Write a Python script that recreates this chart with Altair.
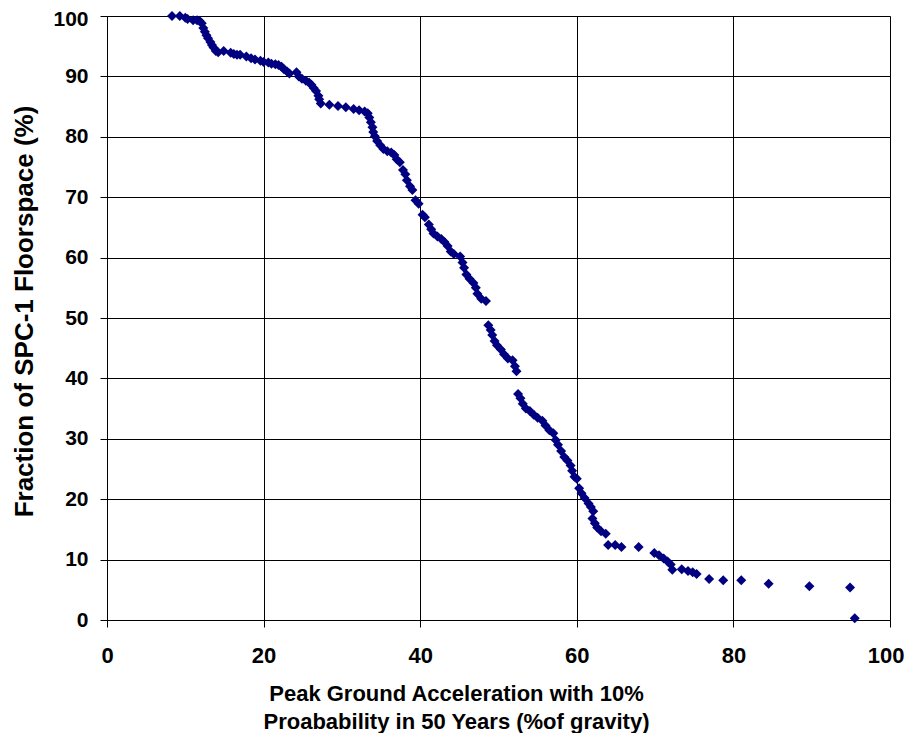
import altair as alt
import pandas as pd

pga = [8.3, 9.3, 10.0, 10.3, 11.0, 11.5, 11.8, 12.1, 12.3, 12.5, 12.7, 12.9, 13.2, 13.4, 13.6, 13.9, 14.2,
       14.9, 15.8, 16.2, 16.6, 17.0, 17.8, 18.4, 18.9, 19.6, 20.0, 20.6, 21.0, 21.5, 21.9, 22.3, 22.6,
       23.0, 23.3, 24.2, 24.5, 24.9, 25.4, 25.8, 26.1, 26.4, 26.7, 27.0, 27.1, 27.3, 28.4, 29.5, 30.5,
       31.5, 32.2, 32.9, 33.3, 33.5, 33.7, 33.9, 34.0, 34.2, 34.5, 34.9, 35.3, 35.8, 36.3, 36.7, 37.0,
       37.4, 37.8, 38.1, 38.3, 38.7, 39.0, 39.4, 39.8, 40.3, 40.6, 41.1, 41.4, 41.7, 42.2, 42.7, 43.1,
       43.5, 43.9, 44.3, 45.1, 45.4, 45.6, 45.9, 46.3, 46.8, 47.1, 47.3, 47.8, 48.4,
       48.7, 49.0, 49.2, 49.5, 49.8, 50.3, 50.7, 51.2, 51.8, 52.1, 52.3,
       52.5, 52.8, 53.1, 53.5, 54.0, 54.5, 55.0, 55.6, 56.0, 56.5, 57.0, 57.3, 57.6, 58.0, 58.4, 58.8,
       59.2, 59.4, 59.7, 60.0, 60.3, 60.6, 61.0, 61.5, 61.8, 62.1, 62.0, 62.3, 62.6, 63.1, 63.7, 64.0,
       64.9, 65.7, 67.9, 69.9, 70.5, 71.1, 71.6, 72.0, 72.2, 73.4, 74.2, 74.8, 75.3, 76.9, 78.7, 81.0,
       84.5, 89.7, 94.9, 95.5]
fraction = [100.0, 100.0, 99.7, 99.5, 99.3, 99.3, 99.2, 98.8, 98.0, 97.4, 96.8, 96.3, 95.7, 95.2, 94.8, 94.2, 94.0,
            94.2, 93.9, 93.7, 93.6, 93.6, 93.3, 93.0, 92.8, 92.6, 92.4, 92.3, 92.1, 92.0, 91.9, 91.6, 91.2,
            90.8, 90.5, 90.7, 90.0, 89.6, 89.3, 89.0, 88.6, 88.1, 87.6, 86.8, 86.2, 85.5, 85.3, 85.1, 84.9,
            84.6, 84.4, 84.2, 83.9, 83.2, 82.4, 81.6, 80.8, 80.1, 79.3, 78.6, 78.0, 77.6, 77.4, 77.0, 76.3,
            75.8, 74.5, 73.8, 72.8, 71.8, 71.2, 69.5, 68.9, 67.1, 66.7, 65.5, 64.7, 64.0, 63.5, 63.1, 62.6,
            61.9, 61.0, 60.6, 60.2, 59.2, 58.3, 57.2, 56.5, 55.8, 55.0, 54.0, 53.2, 52.8,
            48.8, 48.0, 47.2, 46.2, 45.5, 44.8, 44.0, 43.3, 43.0, 42.0, 41.2,
            37.4, 36.7, 35.8, 35.0, 34.6, 34.0, 33.5, 33.0, 32.2, 31.4, 30.9, 29.8, 29.0, 28.0, 27.0, 26.4,
            25.6, 24.7, 23.7, 23.4, 21.8, 21.0, 20.2, 19.3, 18.7, 18.0, 16.8, 16.0, 15.3, 14.7, 14.3, 12.4,
            12.4, 12.1, 12.1, 11.1, 10.7, 10.2, 9.7, 9.2, 8.3, 8.4, 8.1, 7.9, 7.6, 6.8, 6.6, 6.6,
            6.0, 5.6, 5.4, 0.3]

x_ticks = [0, 20, 40, 60, 80, 100]
y_ticks = [0, 10, 20, 30, 40, 50, 60, 70, 80, 90, 100]

df = pd.DataFrame({"pga": pga, "fraction": fraction})

FONT = "Liberation Sans"

chart = alt.Chart(df).mark_point(
    shape="diamond", filled=True, size=100, color="#000080", opacity=1
).encode(
    x=alt.X("pga:Q", scale=alt.Scale(domain=[0, 100], nice=False),
            axis=alt.Axis(values=x_ticks, title=["Peak Ground Acceleration with 10%",
                                                 "Proabability in 50 Years (%of gravity)"],
                          grid=True, gridColor="#000000", gridWidth=1, gridOpacity=1,
                          domainColor="#000000", tickColor="#000000", tickSize=7,
                          labelFlush=False, labelOverlap=False,
                          labelAlign=alt.condition("datum.value == 100", alt.value("right"), alt.value("center")),
                          labelOffset=alt.condition("datum.value == 100", alt.value(14), alt.value(0)),
                          labelPadding=18, labelFont=FONT, labelFontSize=22, labelFontWeight="bold",
                          labelColor="#000000",
                          titleFont=FONT, titleFontSize=22, titleFontWeight="bold", titleColor="#000000",
                          titleX=349, titleY=63, titleBaseline="top", titleLineHeight=28,
                          titleAlign="center")),
    y=alt.Y("fraction:Q", scale=alt.Scale(domain=[0, 100], nice=False),
            axis=alt.Axis(values=y_ticks, title="Fraction of SPC-1 Floorspace (%)",
                          grid=True, gridColor="#000000", gridWidth=1, gridOpacity=1,
                          domainColor="#000000", tickColor="#000000", tickSize=7,
                          labelFlush=False, labelOverlap=False,
                          labelOffset=alt.condition("datum.value == 100", alt.value(3), alt.value(0)),
                          labelPadding=12, labelFont=FONT, labelFontSize=21, labelFontWeight="bold",
                          labelColor="#000000",
                          titleFont=FONT, titleFontSize=26, titleFontWeight="bold", titleColor="#000000",
                          titleX=-83, titleY=295, titleAngle=270, titleBaseline="middle",
                          titleAlign="center")),
).properties(
    width=783, height=604,
    autosize=alt.AutoSizeParams(type="none"),
    padding={"left": 99, "top": 8, "right": 15, "bottom": 113},
).configure_view(
    fill="#C0C0C0", stroke="#808080", strokeWidth=1
).configure(background="#FFFFFF")

chart.save("out.html", embed_options={"renderer": "svg", "actions": False})
